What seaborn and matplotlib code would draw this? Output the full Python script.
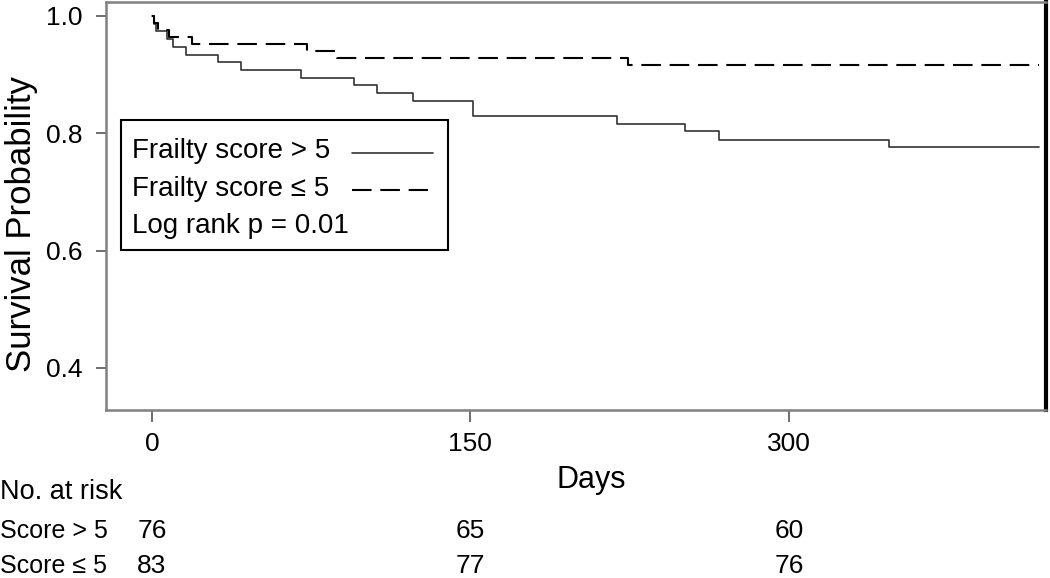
import numpy as np
import pandas as pd
import matplotlib
matplotlib.use("Agg")
import matplotlib.pyplot as plt
import matplotlib.transforms as mtransforms
from matplotlib.lines import Line2D
from matplotlib.patches import Rectangle
import seaborn as sns

sns.set_style("white")
plt.rcParams['font.family'] = ['Liberation Sans', 'DejaVu Sans']
plt.rcParams['text.color'] = 'black'
plt.rcParams['axes.labelcolor'] = 'black'

# Kaplan-Meier step values
days_high = [0, 1, 2, 7, 10, 16, 31, 42, 70, 95, 106, 123, 151, 219, 251, 267, 347, 418]
surv_high = [1.0, 0.987, 0.974, 0.961, 0.947, 0.934, 0.921, 0.908, 0.895, 0.882,
             0.868, 0.855, 0.829, 0.816, 0.803, 0.789, 0.776, 0.776]

days_low = [0, 1, 3, 8, 19, 73, 87, 224, 418]
surv_low = [1.0, 0.988, 0.976, 0.964, 0.952, 0.940, 0.928, 0.916, 0.916]

# number at risk table
risk_days = [0, 150, 300]
risk_high = [76, 65, 60]
risk_low = [83, 77, 76]
group_labels = ['Score > 5', 'Score \u2264 5']
legend_labels = ['Frailty score > 5', 'Frailty score \u2264 5', 'Log rank p = 0.01']

df = pd.concat([
    pd.DataFrame({'days': days_high, 'surv': surv_high, 'group': 'high'}),
    pd.DataFrame({'days': days_low, 'surv': surv_low, 'group': 'low'}),
])

W, H = 1050, 578
fig = plt.figure(figsize=(W / 100, H / 100), dpi=100)
ax = fig.add_axes([0.101, 0.2907, 0.895, 0.706])

dash = (9.4, 4.2)
sns.lineplot(data=df, x='days', y='surv', hue='group', style='group', size='group',
             palette={'high': '#333333', 'low': 'black'},
             dashes={'high': '', 'low': dash},
             sizes={'high': 1.2, 'low': 1.5},
             estimator=None, sort=True, drawstyle='steps-post',
             legend=False, ax=ax)

ax.set_xlim(-21.6, 421)
ax.set_ylim(0.328, 1.024)
ax.set_xticks(risk_days)
ax.set_yticks([0.4, 0.6, 0.8, 1.0])
ax.set_yticklabels(['0.4', '0.6', '0.8', '1.0'])
ax.tick_params(axis='both', labelsize=19, width=1.2, color='#555555',
               labelcolor='black', direction='out', bottom=True, left=True)
ax.tick_params(axis='y', length=7, pad=10)
ax.tick_params(axis='x', length=8.5, pad=7)

for side in ['left', 'bottom', 'top']:
    ax.spines[side].set_color('#808080')
    ax.spines[side].set_linewidth(1.8)
ax.spines['right'].set_color('black')
ax.spines['right'].set_linewidth(3)

ax.set_ylabel('Survival Probability', fontsize=25)
ax.yaxis.set_label_coords(-0.072, 0.455)
ax.set_xlabel('Days', fontsize=22)
ax.xaxis.set_label_coords(0.516, -0.135)


def fx(x):
    return x / W


def fy(y):
    return 1 - y / H


# legend box drawn by hand so text stays left aligned
box = Rectangle((fx(121), fy(250)), fx(448) - fx(121), fy(120) - fy(250),
                transform=fig.transFigure, facecolor='white', edgecolor='black',
                linewidth=1.5, zorder=3)
fig.add_artist(box)
row_y = [151, 189, 226]
for lab, yy in zip(legend_labels, row_y):
    fig.text(fx(132), fy(yy), lab, fontsize=20, va='center', ha='left', zorder=4)
fig.add_artist(Line2D([fx(352), fx(433)], [fy(153), fy(153)], color='#333333',
                      lw=1.2, transform=fig.transFigure, zorder=4))
fig.add_artist(Line2D([fx(352), fx(428)], [fy(190), fy(190)], color='black',
                      lw=1.5, dashes=dash, transform=fig.transFigure, zorder=4))

# number at risk below the axis
trans = mtransforms.blended_transform_factory(ax.transData, fig.transFigure)
fig.text(0.0, fy(492), 'No. at risk', fontsize=19.5, va='center', ha='left')
for row, (lab, vals) in enumerate(zip(group_labels, [risk_high, risk_low])):
    yy = fy(531 + row * 35)
    fig.text(0.0, yy, lab, fontsize=18, va='center', ha='left')
    for d, v in zip(risk_days, vals):
        ax.text(d, yy, str(v), transform=trans, fontsize=19, va='center', ha='center')

fig.savefig('out.png', dpi=100)
